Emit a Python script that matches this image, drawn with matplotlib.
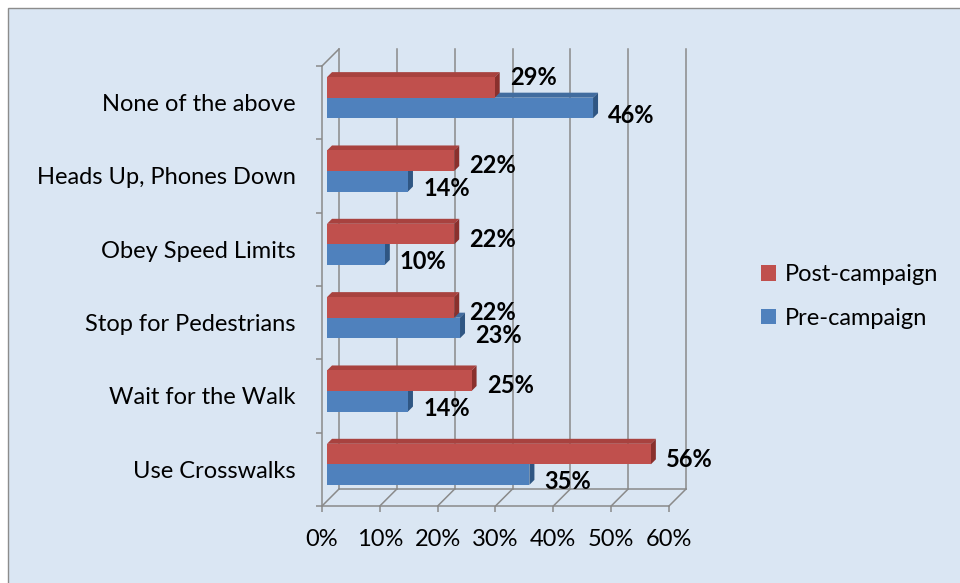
import matplotlib.pyplot as plt
from matplotlib.patches import Polygon, Rectangle, Patch

categories = ["Use Crosswalks", "Wait for the Walk", "Stop for Pedestrians",
              "Obey Speed Limits", "Heads Up, Phones Down", "None of the above"]
pre_campaign = [35, 14, 23, 10, 14, 46]
post_campaign = [56, 25, 22, 22, 22, 29]
x_ticks = [0, 10, 20, 30, 40, 50, 60]
x_tick_labels = [f"{t}%" for t in x_ticks]

plt.rcParams['font.family'] = ['Lato', 'DejaVu Sans']

RED, RED_TOP, RED_SIDE = "#c0504d", "#a8423f", "#8a302d"
BLUE, BLUE_TOP, BLUE_SIDE = "#4f81bd", "#416c9f", "#2f5683"
GRID = "#8a8a8a"
BG = "#dae6f3"
FS = 17

W, H = 960, 583
fig = plt.figure(figsize=(W / 100, H / 100), dpi=100)
fig.patch.set_facecolor("white")
# light blue panel with a thin grey frame
fig.add_artist(Rectangle((8 / W, -0.1), 1.2, 1 - 8 / H + 0.1, transform=fig.transFigure,
                         facecolor=BG, edgecolor="#8c8c8c", linewidth=1.0, zorder=0))

ax_w, ax_h = 347, 440
ax = fig.add_axes([322 / W, 77 / H, ax_w / W, ax_h / H])
ax.set_facecolor("none")
ax.set_xlim(0, 60)
ax.set_ylim(-0.5, 5.5)

# pixel depth -> data units
kx = 60 / ax_w
ky = 6 / ax_h
DEPTH = 17


def shift(x, y, d):
    return (x + d * kx, y + d * ky)


def line(p, q):
    ax.plot(*zip(p, q), color=GRID, lw=1.1, zorder=1, clip_on=False)


# back wall gridlines and floor
y_floor, y_top = -0.5, 5.5
for t in x_ticks:
    line(shift(t, y_floor, DEPTH), shift(t, y_top, DEPTH))
    line((t, y_floor), shift(t, y_floor, DEPTH))
line(shift(0, y_floor, DEPTH), shift(60, y_floor, DEPTH))
line((0, y_top), shift(0, y_top, DEPTH))


def face(pts, color):
    ax.add_patch(Polygon(pts, closed=True, facecolor=color, edgecolor="none",
                         clip_on=False, zorder=3))


def bar3d(x_end, y0, h, front, top, side, d1=5, d2=10):
    face([shift(0, y0 + h, d1), shift(x_end, y0 + h, d1),
          shift(x_end, y0 + h, d2), shift(0, y0 + h, d2)], top)
    face([shift(x_end, y0, d1), shift(x_end, y0, d2),
          shift(x_end, y0 + h, d2), shift(x_end, y0 + h, d1)], side)
    face([shift(0, y0, d1), shift(x_end, y0, d1),
          shift(x_end, y0 + h, d1), shift(0, y0 + h, d1)], front)


bar_h = 0.28
for i, (pre, post) in enumerate(zip(pre_campaign, post_campaign)):
    bar3d(pre, i - bar_h, bar_h, BLUE, BLUE_TOP, BLUE_SIDE)
    bar3d(post, i, bar_h, RED, RED_TOP, RED_SIDE)

    # value labels next to the bar ends; lifted when the blue bar runs underneath
    lift = 10.5 if pre > post + 5 else 0
    ax.annotate(f"{post}%", (post, i + bar_h / 2), xytext=(14.5, lift),
                textcoords="offset points", ha="left", va="center",
                fontsize=FS, fontweight="bold", zorder=4, annotation_clip=False)
    ax.annotate(f"{pre}%", (pre, i - bar_h / 2), xytext=(14.5, -1.5),
                textcoords="offset points", ha="left", va="center",
                fontsize=FS, fontweight="bold", zorder=4, annotation_clip=False)

# front edges: left wall and floor
for side in ("top", "right"):
    ax.spines[side].set_visible(False)
for side in ("left", "bottom"):
    ax.spines[side].set_color(GRID)
    ax.spines[side].set_linewidth(1.1)
    ax.spines[side].set_zorder(2)

ax.set_xticks(x_ticks)
ax.set_xticklabels(x_tick_labels)
ax.tick_params(axis="x", length=4.5, width=1.1, color=GRID, labelsize=FS, pad=12)
ax.set_yticks(range(len(categories)))
ax.set_yticklabels(categories)
ax.set_yticks([i - 0.5 for i in range(len(categories) + 1)], minor=True)
ax.tick_params(axis="y", which="major", length=0, labelsize=FS, pad=19)
ax.tick_params(axis="y", which="minor", length=4.5, width=1.1, color=GRID)

handles = [Patch(facecolor=RED, label="Post-campaign"),
           Patch(facecolor=BLUE, label="Pre-campaign")]
fig.legend(handles=handles, loc="center left", bbox_to_anchor=(761 / W, 1 - 296.5 / H),
           frameon=False, fontsize=FS, handlelength=0.65, handleheight=0.65,
           handletextpad=0.35, labelspacing=0.95, borderpad=0, borderaxespad=0)

fig.savefig("out.png", dpi=100, facecolor=fig.get_facecolor())
